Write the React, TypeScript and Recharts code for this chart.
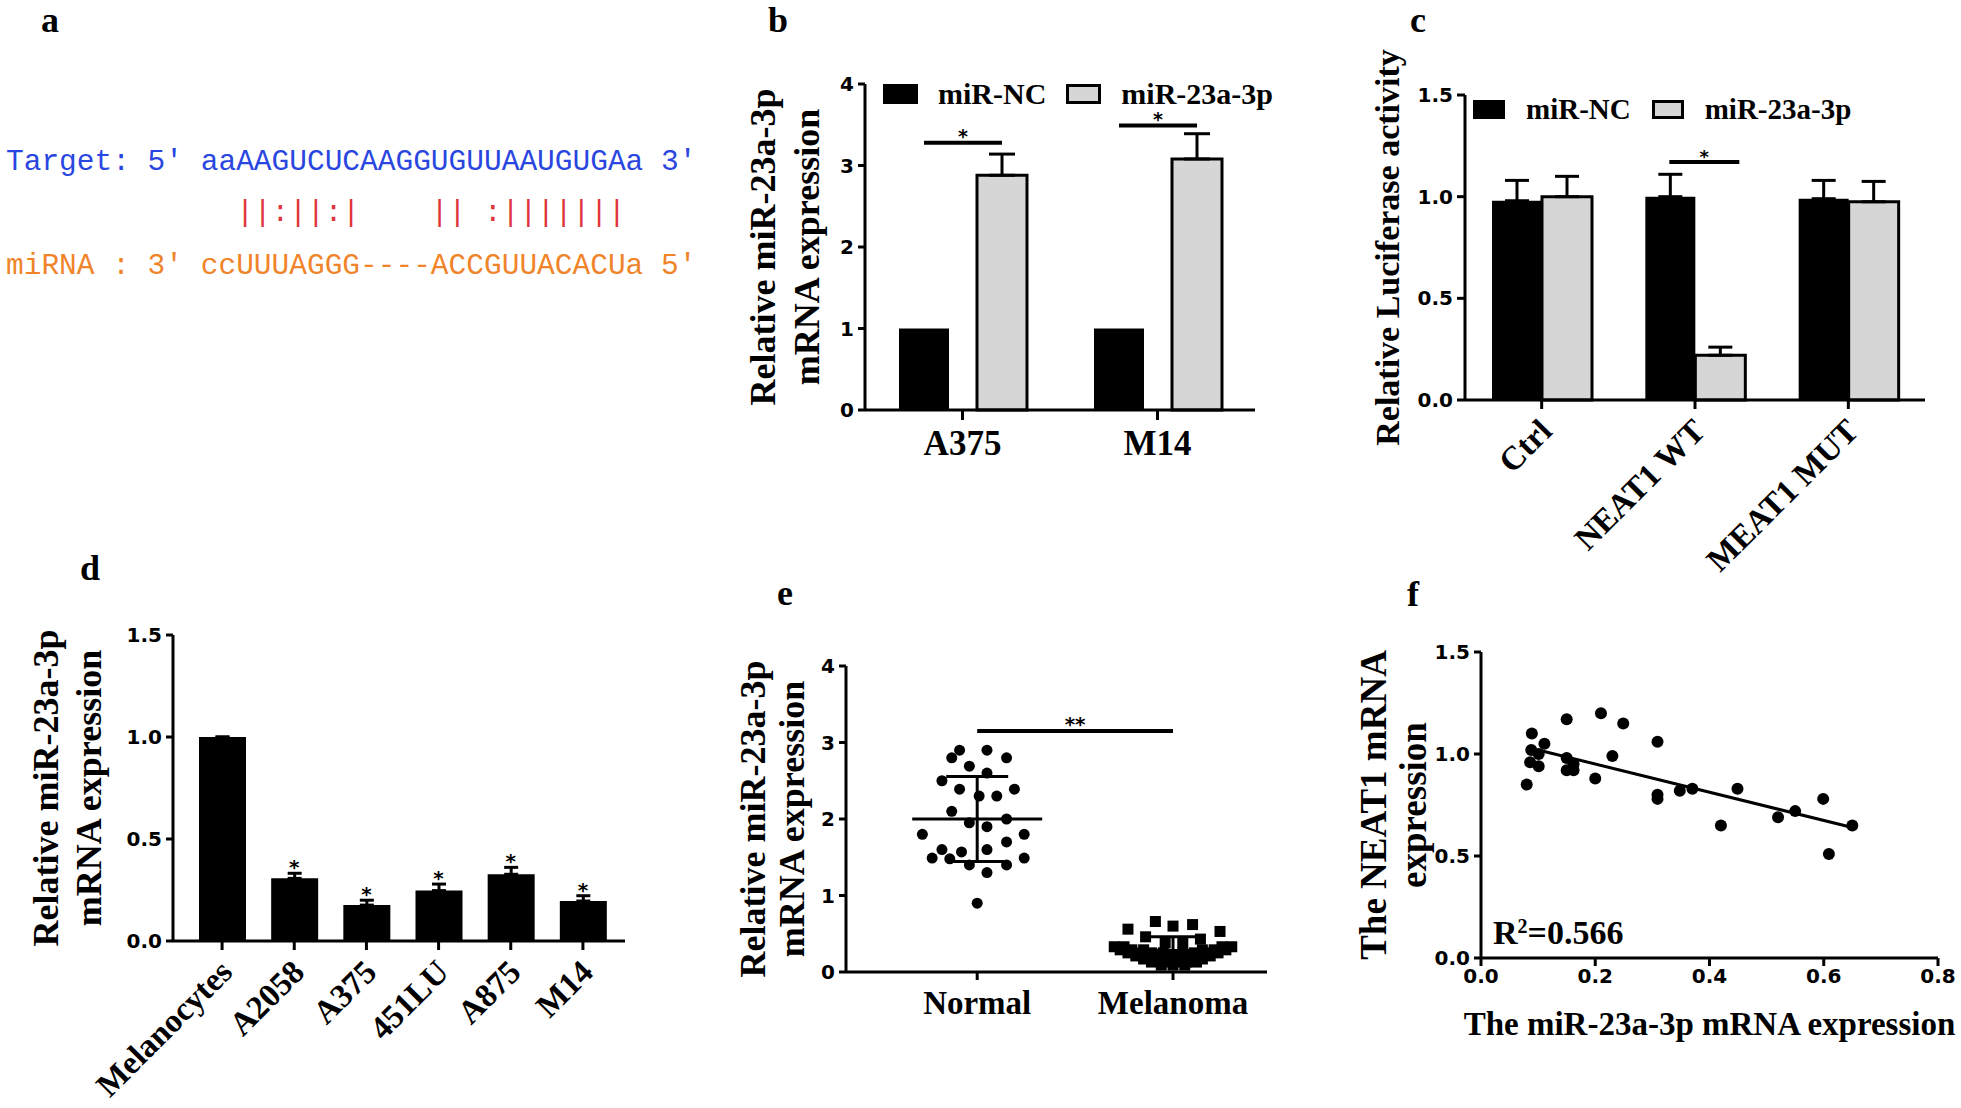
import {
  BarChart,
  Bar,
  XAxis,
  YAxis,
  ErrorBar,
  LabelList,
  ReferenceLine,
  ReferenceDot,
  Legend,
  ScatterChart,
  Scatter,
} from "recharts";

const SERIF = '"Liberation Serif", "Times New Roman", serif';
const NUM_FONT = '"DejaVu Sans", "Liberation Sans", sans-serif';
const MONO = '"Liberation Mono", "Courier New", monospace';
const GRAY = "#d6d6d6";

// a: predicted binding site
const targetLine = "Target: 5' aaAAGUCUCAAGGUGUUAAUGUGAa 3'";
const pairingLine = "             ||:||:|    || :|||||||";
const mirnaLine = "miRNA : 3' ccUUUAGGG----ACCGUUACACUa 5'";

// b: overexpression
const bCells = ["A375", "M14"];
const bNC = [1, 1];
const bMiR = [2.88, 3.08];
const bMiRErr = [0.26, 0.31];
const bSigY = [3.28, 3.49];

// c: luciferase
const cGroups = ["Ctrl", "NEAT1 WT", "MEAT1 MUT"];
const cNC = [0.98, 1.0, 0.99];
const cNCErr = [0.1, 0.11, 0.09];
const cMiR = [1.0, 0.22, 0.975];
const cMiRErr = [0.1, 0.04, 0.1];
const cSigY = [null, 1.17, null];

// d: cell lines
const dCells = ["Melanocytes", "A2058", "A375", "451LU", "A875", "M14"];
const dValues = [1.0, 0.307, 0.176, 0.247, 0.327, 0.196];
const dErr = [0, 0.025, 0.024, 0.032, 0.034, 0.026];
const dStar = ["", "*", "*", "*", "*", "*"];

// e: tissues
const eGroups = ["Normal", "Melanoma"];
const normalX = [0.91, 1.05, 0.87, 1.15, 0.96, 1.05, 0.82, 0.91, 1.19, 1.01, 1.1, 0.87, 0.96, 1.15, 1.05, 0.72, 1.24, 1.15, 0.82, 0.92, 1.05, 0.77, 0.86, 0.96, 1.15, 1.24, 1.05, 1.0];
const normalY = [2.9, 2.9, 2.8, 2.8, 2.69, 2.6, 2.5, 2.39, 2.39, 2.3, 2.3, 2.1, 1.95, 2.0, 1.9, 1.8, 1.8, 1.7, 1.6, 1.57, 1.6, 1.49, 1.48, 1.4, 1.4, 1.49, 1.3, 0.9];
const melX = [
  1.77, 1.91, 2.0, 2.1, 2.24, 1.86, 2.14, 1.96, 2.05,
  1.7, 1.75, 2.25, 2.3,
  1.73, 1.79, 1.85, 2.15, 2.21, 2.27,
  1.77, 1.83, 1.89, 1.95, 2.05, 2.11, 2.17, 2.23,
  1.81, 1.87, 1.93, 2.0, 2.07, 2.13, 2.19,
  1.85, 1.91, 1.97, 2.03, 2.09, 2.15,
  1.89, 1.95, 2.01, 2.07, 2.12,
  1.94, 2.0, 2.06,
];
const melY = [
  0.56, 0.66, 0.6, 0.62, 0.53, 0.46, 0.43, 0.38, 0.38,
  0.33, 0.33, 0.33, 0.33,
  0.29, 0.29, 0.29, 0.29, 0.29, 0.29,
  0.25, 0.25, 0.25, 0.25, 0.25, 0.25, 0.25, 0.25,
  0.21, 0.21, 0.21, 0.21, 0.21, 0.21, 0.21,
  0.17, 0.17, 0.17, 0.17, 0.17, 0.17,
  0.13, 0.13, 0.13, 0.13, 0.13,
  0.09, 0.09, 0.09,
];
const eMeans = [2.0, 0.28];
const eSD = [0.555, 0.18];
const eSigY = 3.15;

// f: correlation
const fX = [0.08, 0.089, 0.088, 0.086, 0.101, 0.101, 0.111, 0.15, 0.15, 0.15, 0.162, 0.162, 0.2, 0.21, 0.23, 0.249, 0.309, 0.309, 0.309, 0.348, 0.37, 0.42, 0.449, 0.52, 0.55, 0.599, 0.609, 0.65];
const fY = [0.85, 1.1, 1.02, 0.96, 1.0, 0.94, 1.05, 1.17, 0.98, 0.92, 0.92, 0.95, 0.88, 1.2, 0.99, 1.15, 1.06, 0.8, 0.78, 0.82, 0.83, 0.65, 0.83, 0.69, 0.72, 0.78, 0.51, 0.65];
const fitX = [0.1, 0.65];
const fitY = [1.02, 0.64];

const bData = bCells.map((name, i) => ({
  name,
  nc: bNC[i],
  mir: bMiR[i],
  mirErr: [0, bMiRErr[i]],
  sig: bSigY[i] == null ? null : [bSigY[i], bMiR[i]],
}));
const cData = cGroups.map((name, i) => ({
  name,
  nc: cNC[i],
  ncErr: [0, cNCErr[i]],
  mir: cMiR[i],
  mirErr: [0, cMiRErr[i]],
  sig: cSigY[i] == null ? null : [cSigY[i], cMiR[i]],
}));
const dData = dCells.map((name, i) => ({ name, v: dValues[i], err: [0, dErr[i]] }));
const normalData = normalX.map((x, i) => ({ x, y: normalY[i] }));
const melData = melX.map((x, i) => ({ x, y: melY[i] }));
const fData = fX.map((x, i) => ({ x, y: fY[i] }));
const fitData = fitX.map((x, i) => ({ x, y: fitY[i] }));

const legendSeries = [
  { name: "miR-NC", fill: "#000", border: false },
  { name: "miR-23a-3p", fill: GRAY, border: true },
];

const AXIS = { stroke: "#000", strokeWidth: 3 };
const NUM_TICK = { fontFamily: NUM_FONT, fontWeight: 700, fontSize: 20, fill: "#000" };
const WORD_TICK = { fontFamily: SERIF, fontWeight: 700, fontSize: 35, fill: "#000" };
const fmt1 = (v: number) => v.toFixed(1);

function axisTitle(lines: string[], shifts: number[], fontSize: number) {
  return (props: any) => {
    const vb = props.viewBox;
    const axisX = vb.x + vb.width;
    const cy = vb.y + vb.height / 2;
    return (
      <g>
        {lines.map((line, i) => {
          const bx = axisX + shifts[i];
          return (
            <text
              key={line}
              x={bx}
              y={cy}
              transform={`rotate(-90 ${bx} ${cy})`}
              textAnchor="middle"
              fontFamily={SERIF}
              fontWeight={700}
              fontSize={fontSize}
              fill="#000"
            >
              {line}
            </text>
          );
        })}
      </g>
    );
  };
}

function makeLegend(box: [number, number], fontSize: number, gap: number, lineHeight: number) {
  return () => (
    <div
      style={{
        display: "flex",
        alignItems: "center",
        fontFamily: SERIF,
        fontWeight: 700,
        fontSize,
        lineHeight: `${lineHeight}px`,
        whiteSpace: "nowrap",
        color: "#000",
      }}
    >
      {legendSeries.map((s, i) => (
        <div key={s.name} style={{ display: "flex", alignItems: "center", marginLeft: i ? gap : 0 }}>
          <span
            style={{
              display: "inline-block",
              width: box[0],
              height: box[1],
              background: s.fill,
              border: s.border ? "3px solid #000" : "none",
              boxSizing: "border-box",
              marginRight: gap,
            }}
          />
          <span>{s.name}</span>
        </div>
      ))}
    </div>
  );
}

// significance bar drawn over the gray bar of a group: value = [sig level, bar value]
function sigMark(fromDx: number, toDx: number, starSize: number, starGap: number) {
  return (props: any) => {
    const v = props.value;
    if (!v || !Array.isArray(v)) return null;
    const [sig, barVal] = v;
    const vb = props.viewBox && props.viewBox.height != null ? props.viewBox : props;
    const { x, y, height } = vb;
    const ly = y + height - (sig * height) / barVal;
    const x1 = x + fromDx;
    const x2 = x + toDx;
    return (
      <g>
        <line x1={x1} x2={x2} y1={ly} y2={ly} stroke="#000" strokeWidth={4} />
        <text
          x={(x1 + x2) / 2}
          y={ly - starGap}
          textAnchor="middle"
          fontFamily={NUM_FONT}
          fontWeight={700}
          fontSize={starSize}
          fill="#000"
        >
          *
        </text>
      </g>
    );
  };
}

const SlantTick = (props: any) => {
  const { x, y, payload } = props;
  const ax = x + 12;
  const ay = y + 22;
  return (
    <text
      x={ax}
      y={ay}
      transform={`rotate(-45 ${ax} ${ay})`}
      textAnchor="end"
      fontFamily={SERIF}
      fontWeight={700}
      fontSize={33}
      fill="#000"
    >
      {payload.value}
    </text>
  );
};

const dot = (r: number) => (p: any) => <circle cx={p.cx} cy={p.cy} r={r} fill="#000" />;
const square = (s: number) => (p: any) => (
  <rect x={p.cx - s / 2} y={p.cy - s / 2} width={s} height={s} fill="#000" />
);
const meanLine = (half: number) => (p: any) => (
  <line x1={p.cx - half} x2={p.cx + half} y1={p.cy} y2={p.cy} stroke="#000" strokeWidth={3} />
);

const starLabel = (fontSize: number, offset: number, text = "*") => ({
  value: text,
  position: "top" as const,
  offset,
  fontFamily: NUM_FONT,
  fontWeight: 700,
  fontSize,
  fill: "#000",
});

const panelLetters = [
  { t: "a", x: 50, y: 22 },
  { t: "b", x: 778, y: 22 },
  { t: "c", x: 1418, y: 22 },
  { t: "d", x: 90, y: 570 },
  { t: "e", x: 785, y: 595 },
  { t: "f", x: 1413, y: 596 },
];

function PanelA() {
  const common = { x: 6, fontFamily: MONO, fontSize: 29.5, style: { whiteSpace: "pre" as const } };
  return (
    <svg width={720} height={320} style={{ position: "absolute", left: 0, top: 0 }}>
      <text {...common} y={170} fill="#2a46e0" xmlSpace="preserve">{targetLine}</text>
      <text {...common} y={221} fill="#e0333c" xmlSpace="preserve">{pairingLine}</text>
      <text {...common} y={274} fill="#f0842a" xmlSpace="preserve">{mirnaLine}</text>
    </svg>
  );
}

function PanelB() {
  return (
    <div style={{ position: "absolute", left: 700, top: 0 }}>
      <BarChart width={580} height={480} data={bData} margin={{ top: 84, right: 25, left: 0, bottom: 20 }} barGap={28} barSize={50}>
        <XAxis dataKey="name" height={50} tickSize={10} tickMargin={10} axisLine={AXIS} tickLine={AXIS} tick={WORD_TICK} />
        <YAxis
          width={165}
          domain={[0, 4]}
          ticks={[0, 1, 2, 3, 4]}
          tickSize={7}
          tickMargin={4}
          axisLine={AXIS}
          tickLine={AXIS}
          tick={NUM_TICK}
          label={axisTitle(["Relative miR-23a-3p", "mRNA expression"], [-90, -46], 36)}
        />
        <Legend
          layout="horizontal"
          verticalAlign="middle"
          align="center"
          wrapperStyle={{ top: 83, left: 183, width: "auto" }}
          content={makeLegend([35, 20], 30, 20, 22)}
        />
        <Bar dataKey="nc" name="miR-NC" fill="#000" isAnimationActive={false} />
        <Bar dataKey="mir" name="miR-23a-3p" fill={GRAY} stroke="#000" strokeWidth={3} isAnimationActive={false}>
          <ErrorBar dataKey="mirErr" direction="y" width={13} stroke="#000" strokeWidth={3} />
          <LabelList dataKey="sig" content={sigMark(-53, 25, 19, 0)} />
        </Bar>
      </BarChart>
    </div>
  );
}

function PanelC() {
  return (
    <div style={{ position: "absolute", left: 1340, top: 0 }}>
      <BarChart width={621} height={580} data={cData} margin={{ top: 95, right: 36, left: 0, bottom: 60 }} barGap={0} barSize={50}>
        <XAxis dataKey="name" height={120} tickSize={9} tickMargin={2} axisLine={AXIS} tickLine={AXIS} tick={<SlantTick />} interval={0} />
        <YAxis
          width={125}
          domain={[0, 1.5]}
          ticks={[0, 0.5, 1, 1.5]}
          tickFormatter={fmt1}
          tickSize={8}
          tickMargin={4}
          axisLine={AXIS}
          tickLine={AXIS}
          tick={NUM_TICK}
          label={axisTitle(["Relative Luciferase activity"], [-66], 34)}
        />
        <Legend
          layout="horizontal"
          verticalAlign="middle"
          align="center"
          wrapperStyle={{ top: 98, left: 133, width: "auto" }}
          content={makeLegend([32, 19], 29, 21, 23)}
        />
        <Bar dataKey="nc" name="miR-NC" fill="#000" isAnimationActive={false}>
          <ErrorBar dataKey="ncErr" direction="y" width={12} stroke="#000" strokeWidth={3} />
        </Bar>
        <Bar dataKey="mir" name="miR-23a-3p" fill={GRAY} stroke="#000" strokeWidth={3} isAnimationActive={false}>
          <ErrorBar dataKey="mirErr" direction="y" width={12} stroke="#000" strokeWidth={3} />
          <LabelList dataKey="sig" content={sigMark(-26, 44, 18, -1)} />
        </Bar>
      </BarChart>
    </div>
  );
}

function PanelD() {
  return (
    <div style={{ position: "absolute", left: 0, top: 560 }}>
      <BarChart width={640} height={548} data={dData} margin={{ top: 75, right: 15, left: 0, bottom: 27 }} barSize={47}>
        <XAxis
          dataKey="name"
          height={140}
          padding={{ left: 13, right: 6 }}
          tickSize={9}
          tickMargin={2}
          axisLine={AXIS}
          tickLine={AXIS}
          tick={<SlantTick />}
          interval={0}
        />
        <YAxis
          width={173}
          domain={[0, 1.5]}
          ticks={[0, 0.5, 1, 1.5]}
          tickFormatter={fmt1}
          tickSize={7}
          tickMargin={4}
          axisLine={AXIS}
          tickLine={AXIS}
          tick={NUM_TICK}
          label={axisTitle(["Relative miR-23a-3p", "mRNA expression"], [-115, -72], 36)}
        />
        <Bar dataKey="v" fill="#000" isAnimationActive={false}>
          <ErrorBar dataKey="err" direction="y" width={7} stroke="#000" strokeWidth={3} />
        </Bar>
        {dCells.map((name, i) =>
          dStar[i] ? (
            <ReferenceDot
              key={name}
              x={name}
              y={dValues[i] + dErr[i]}
              r={1}
              fill="none"
              stroke="none"
              label={starLabel(20, -2, dStar[i])}
            />
          ) : null
        )}
      </BarChart>
    </div>
  );
}

function PanelE() {
  return (
    <div style={{ position: "absolute", left: 720, top: 580 }}>
      <ScatterChart width={560} height={460} margin={{ top: 86, right: 13, left: 0, bottom: 8 }}>
        <XAxis
          type="number"
          dataKey="x"
          domain={[0.33, 2.48]}
          allowDataOverflow
          ticks={[1, 2]}
          tickFormatter={(v: number) => eGroups[v - 1]}
          height={60}
          tickSize={8}
          tickMargin={11}
          axisLine={AXIS}
          tickLine={AXIS}
          tick={{ ...WORD_TICK, fontSize: 33 }}
        />
        <YAxis
          type="number"
          dataKey="y"
          width={126}
          domain={[0, 4]}
          allowDataOverflow
          ticks={[0, 1, 2, 3, 4]}
          tickSize={7}
          tickMargin={4}
          axisLine={AXIS}
          tickLine={AXIS}
          tick={NUM_TICK}
          label={axisTitle(["Relative miR-23a-3p", "mRNA expression"], [-81, -42], 36)}
        />
        <Scatter data={normalData} shape={dot(5.5)} isAnimationActive={false} />
        <Scatter data={melData} shape={square(11)} isAnimationActive={false} />
        <Scatter data={[{ x: 1, y: eMeans[0], sd: eSD[0] }]} shape={meanLine(65)} isAnimationActive={false}>
          <ErrorBar dataKey="sd" direction="y" width={31} stroke="#000" strokeWidth={3} />
        </Scatter>
        <Scatter data={[{ x: 2, y: eMeans[1], sd: eSD[1] }]} shape={meanLine(64)} isAnimationActive={false}>
          <ErrorBar dataKey="sd" direction="y" width={25} stroke="#000" strokeWidth={3} />
        </Scatter>
        <ReferenceLine
          segment={[{ x: 1, y: eSigY }, { x: 2, y: eSigY }]}
          stroke="#000"
          strokeWidth={4}
          label={starLabel(20, 0, "**")}
        />
      </ScatterChart>
    </div>
  );
}

function PanelF() {
  return (
    <div style={{ position: "absolute", left: 1340, top: 580 }}>
      <ScatterChart width={621} height={470} margin={{ top: 72, right: 23, left: 0, bottom: 7 }}>
        <XAxis
          type="number"
          dataKey="x"
          domain={[0, 0.8]}
          allowDataOverflow
          ticks={[0, 0.2, 0.4, 0.6, 0.8]}
          tickFormatter={fmt1}
          height={85}
          tickSize={8}
          tickMargin={3}
          axisLine={AXIS}
          tickLine={AXIS}
          tick={NUM_TICK}
          label={(props: any) => {
            const vb = props.viewBox;
            return (
              <text
                x={vb.x + vb.width / 2}
                y={vb.y + 77}
                textAnchor="middle"
                fontFamily={SERIF}
                fontWeight={700}
                fontSize={33}
                fill="#000"
              >
                The miR-23a-3p mRNA expression
              </text>
            );
          }}
        />
        <YAxis
          type="number"
          dataKey="y"
          width={141}
          domain={[0, 1.5]}
          allowDataOverflow
          ticks={[0, 0.5, 1, 1.5]}
          tickFormatter={fmt1}
          tickSize={7}
          tickMargin={4}
          axisLine={AXIS}
          tickLine={AXIS}
          tick={NUM_TICK}
          label={axisTitle(["The NEAT1 mRNA", "expression"], [-95, -55], 37)}
        />
        <Scatter data={fData} shape={dot(6)} isAnimationActive={false} />
        <Scatter
          data={fitData}
          line={{ stroke: "#000", strokeWidth: 3 }}
          shape={() => <g />}
          legendType="none"
          isAnimationActive={false}
        />
      </ScatterChart>
      <div
        style={{
          position: "absolute",
          left: 153,
          top: 336,
          fontFamily: SERIF,
          fontWeight: 700,
          fontSize: 34,
          lineHeight: "34px",
          whiteSpace: "nowrap",
        }}
      >
        R<sup style={{ fontSize: 20, verticalAlign: "top", lineHeight: "20px" }}>2</sup>=0.566
      </div>
    </div>
  );
}

export default function App() {
  return (
    <div style={{ position: "absolute", left: 0, top: 0, width: 1961, height: 1108, background: "#fff", overflow: "hidden" }}>
      <PanelA />
      <PanelB />
      <PanelC />
      <PanelD />
      <PanelE />
      <PanelF />
      {panelLetters.map((p) => (
        <div
          key={p.t}
          style={{
            position: "absolute",
            left: p.x - 20,
            top: p.y - 20,
            width: 40,
            textAlign: "center",
            fontFamily: SERIF,
            fontWeight: 700,
            fontSize: 36,
            lineHeight: "36px",
          }}
        >
          {p.t}
        </div>
      ))}
    </div>
  );
}
